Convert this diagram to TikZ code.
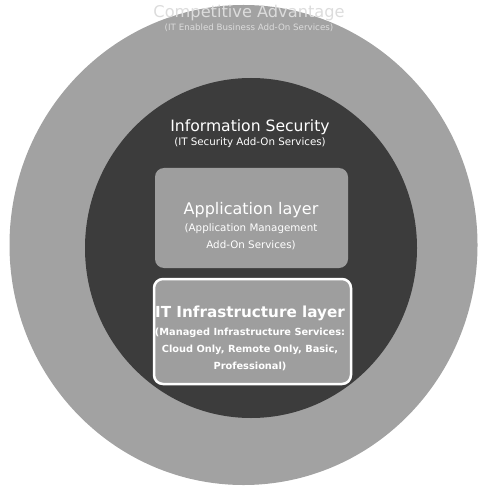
\documentclass[tikz,border=0pt]{standalone}
\usepackage{fontspec}
\setmainfont{DejaVu Sans}
\usepackage{tikz}
\usetikzlibrary{positioning}

\definecolor{ringgray}{HTML}{A2A2A2}
\definecolor{coregray}{HTML}{3C3C3C}
\definecolor{boxgray}{HTML}{9E9E9E}
\definecolor{pale}{HTML}{DCDCDC}

\begin{document}
\begin{tikzpicture}[x = 1pt, y = -1pt,
		every node/.append style = {align=center, inner sep=0pt, text=white},
		head/.style = {font=\fontsize{16}{18}\selectfont},
		small/.style = {font=\fontsize{10.3}{17}\selectfont},
		layerbox/.style = {rounded corners=9pt, fill=boxgray}]
			\useasboundingbox (0,0) rectangle (479,486);

			\fill[ringgray] (243.5,245) ellipse [x radius=234, y radius=240];
			\fill[coregray] (251,248) ellipse [x radius=166, y radius=170];

			\node[layerbox, minimum width=193pt, minimum height=100pt] (appbox) at (251.5,218) {};
			\node[layerbox, draw=white, line width=2.5pt, minimum width=197pt, minimum height=105pt] (itbox) at (252.5,331.5) {};

			\node[head, text=pale, font=\fontsize{16.2}{18}\selectfont] (adv) at (249,13) {Competitive Advantage};
			\node[small, text=pale, font=\fontsize{8.7}{10}\selectfont] (advsub) at (249,28) {(IT Enabled Business Add-On Services)};

			\node[head, font=\fontsize{15.6}{18}\selectfont] (sec) at (250,127) {Information Security};
			\node[small, below=14pt of sec.base, anchor=base] (secsub) {(IT Security Add-On Services)};

			\node[head] (app) at (251,210) {Application layer};
			\node[small, below=6pt of app.south] (appsub) {(Application Management\\Add-On Services)};

			\node[head, font=\bfseries\fontsize{15.2}{18}\selectfont] (it) at (250,313) {IT Infrastructure layer};
			\node[small, font=\bfseries\fontsize{9.8}{17}\selectfont, below=7pt of it.south] (itsub) {(Managed Infrastructure Services:\\Cloud Only, Remote Only, Basic,\\Professional)};
		\end{tikzpicture}
\end{document}
